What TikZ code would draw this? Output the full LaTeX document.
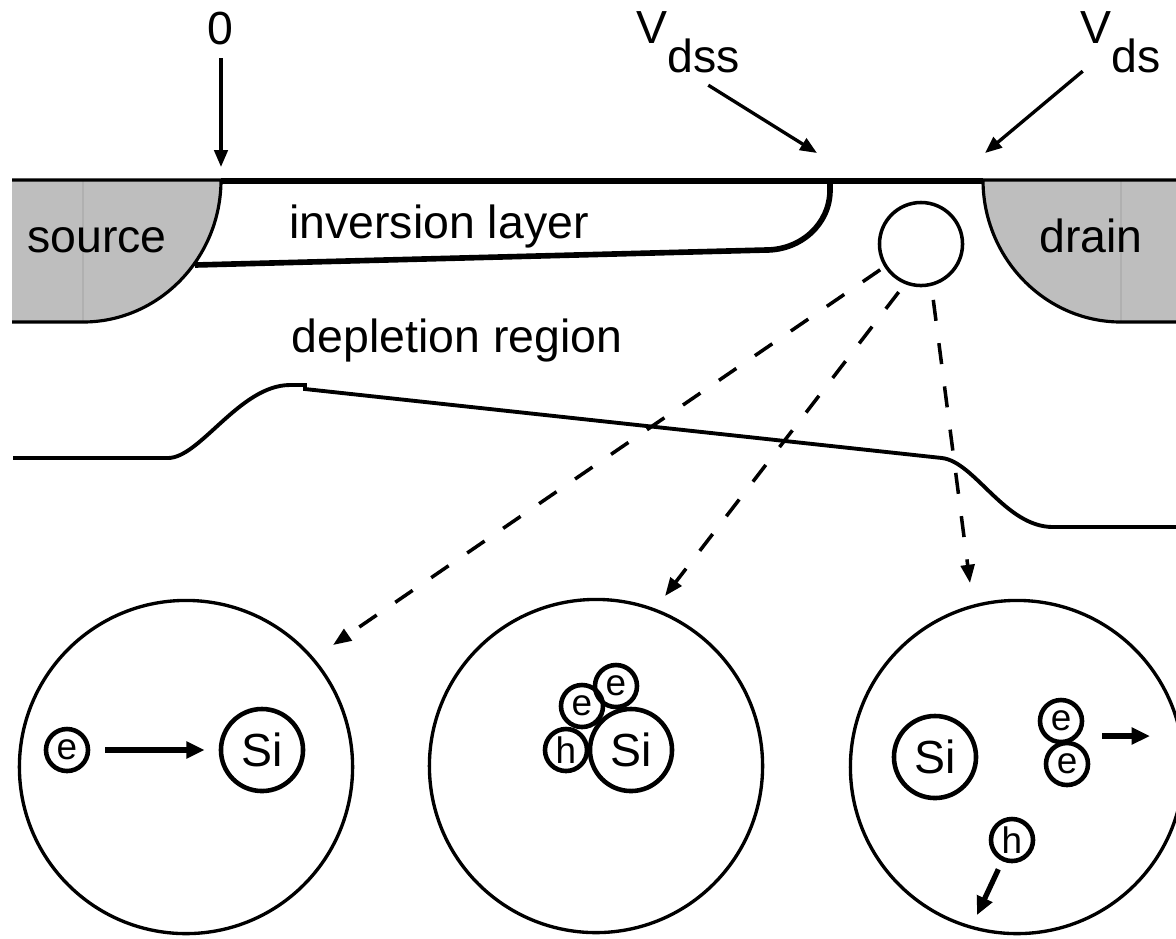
\documentclass[tikz,border=0pt]{standalone}
\usepackage{fontspec}
\setmainfont{Liberation Sans}
\usetikzlibrary{arrows.meta,calc}
\definecolor{implant}{RGB}{190,190,190}
\definecolor{seam}{RGB}{176,176,176}

\begin{document}
\begin{tikzpicture}[x=0.01cm,y=-0.01cm,
  lbl/.style={inner sep=0pt,font=\fontsize{13.2}{15}\selectfont},
  pin/.style={line width=0.95pt,-{Triangle[length=4.8pt,width=3.8pt]}},
  probe/.style={line width=1pt,dash pattern=on 6pt off 6.4pt,-{Triangle[length=5.2pt,width=3.9pt]}},
  kick/.style={line width=1.5pt,-{Triangle[length=5.2pt,width=4.6pt]}},
  zoomc/.style={circle,draw,line width=0.95pt,minimum size=3.33cm,inner sep=0pt},
  part/.style={circle,draw,line width=1.3pt,minimum size=0.42cm,inner sep=0pt,font=\fontsize{10.5}{12}\selectfont},
  atom/.style={part,minimum size=0.82cm,font=\fontsize{13.2}{15}\selectfont}]
  \useasboundingbox (0,0) rectangle (1176,938);

  % source and drain wells
  \fill[implant] (12,180) -- (221,180) .. controls (221,258) and (159,322) .. (83,322) -- (12,322) -- cycle;
  \fill[implant] (1176,180) -- (983,180) .. controls (983,258) and (1045,322) .. (1121,322) -- (1176,322) -- cycle;
  \draw[seam,line width=0.3pt] (83,181) -- (83,321) (1121,181) -- (1121,321);
  \draw[line width=0.9pt] (12,180) -- (221,180) .. controls (221,258) and (159,322) .. (83,322) -- (12,322);
  \draw[line width=0.9pt] (1176,180) -- (983,180) .. controls (983,258) and (1045,322) .. (1121,322) -- (1176,322);

  % channel and inversion layer
  \draw[line width=1.8pt] (221,181) -- (983,181);
  \draw[line width=1.6pt] (195,265) -- (766,250) .. controls (801,250) and (830,224) .. (830,190) -- (830,181);

  % edge of the depletion region
  \draw[line width=1.1pt] (13,458) -- (168,458) .. controls (200,458) and (240,385) .. (290,385) -- (305,385) -- (305,389)
    -- (942,458) .. controls (975,462) and (1005,527) .. (1053,527) -- (1176,527);

  \node[lbl,anchor=base] (src) at (97,252) {source};
  \node[lbl,anchor=base] (drn) at (1091,252) {drain};
  \node[lbl,anchor=base] (inv) at (439,238) {inversion layer};
  \node[lbl,anchor=base] (dep) at (457,352) {depletion region};
  \node[lbl,anchor=base] (zero) at (220,44) {0};
  \node[lbl,anchor=base west] (vdss) at (636,43) {V\raisebox{-0.29cm}{dss}};
  \node[lbl,anchor=base west] (vds) at (1080,43) {V\raisebox{-0.29cm}{ds}};

  \coordinate (x0) at (221,167);
  \coordinate (xdss) at (817,153);
  \coordinate (xds) at (985,153);
  \draw[pin] ($(zero.south)+(1,13)$) -- (x0);
  \draw[pin] ($(vdss.south)+(20,12)$) -- (xdss);
  \draw[pin] ($(vds.south)+(-38,-2)$) -- (xds);

  % the spot and its three close-ups
  \node[circle,draw,line width=1pt,minimum size=0.83cm,inner sep=0pt] (spot) at (921,244) {};
  \node[zoomc] (zl) at (186,767) {};
  \node[zoomc] (zm) at (596,766) {};
  \node[zoomc] (zr) at (1017,767) {};
  \coordinate (tl) at (333,645);
  \coordinate (tm) at (665,596);
  \coordinate (tr) at (970,583);
  \draw[probe,shorten <=0.05cm] (spot.-148) -- (tl);
  \draw[probe,shorten <=0.1cm] (spot.-112) -- (tm);
  \draw[probe,shorten <=0.14cm] (spot.-76) -- (tr);

  % electron hits the atom
  \node[part] (e1) at (67,750) {e};
  \node[atom] (si1) at (262,750) {Si};
  \draw[kick,shorten <=0.15cm,shorten >=0.14cm] (e1) -- (si1);

  % pair is created
  \node[atom] (si2) at (631,750) {Si};
  \node[part] (h2) at (566,750) {h};
  \node[part] (e2a) at (582,706) {e};
  \node[part] (e2b) at (616,686) {e};

  % carriers move apart
  \node[atom] (si3) at (935,757) {Si};
  \node[part] (e3a) at (1061,721) {e};
  \node[part] (e3b) at (1067,764) {e};
  \node[part] (h3) at (1012,840) {h};
  \coordinate (ekick) at (1102,736);
  \coordinate (eout) at (1150,736);
  \coordinate (hout) at (977,915);
  \draw[kick] (ekick) -- (eout);
  \draw[kick,shorten <=0.09cm] (h3) -- (hout);
\end{tikzpicture}
\end{document}
